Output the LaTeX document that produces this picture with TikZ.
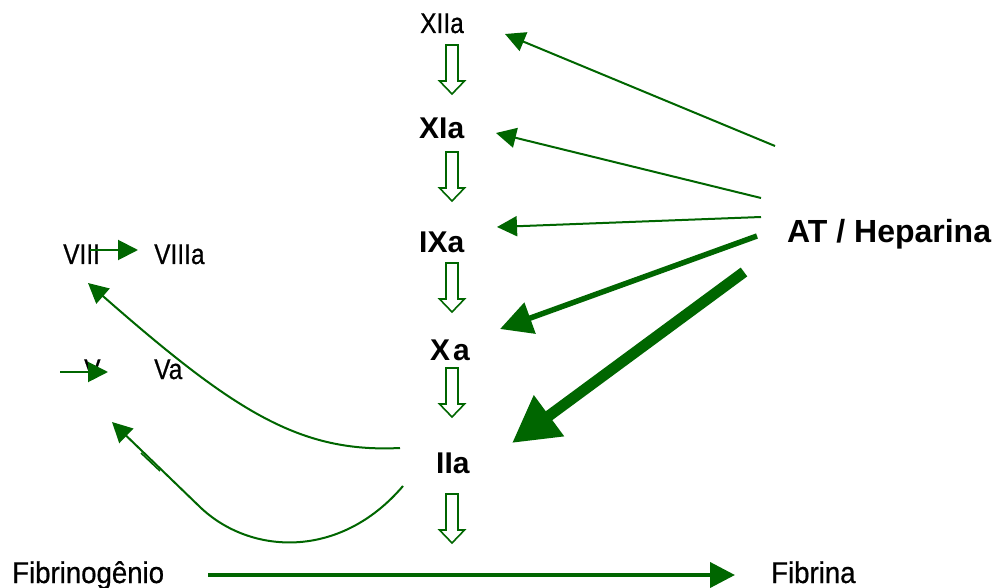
\documentclass[tikz,border=0pt]{standalone}
\usepackage{fontspec}
\setmainfont{Liberation Sans}
\newfontfamily\narrowf[FakeStretch=0.86,FakeBold=0.6]{Liberation Sans}
\newfontfamily\widef[FakeStretch=0.92,FakeBold=0.6]{Liberation Sans}
\usetikzlibrary{arrows.meta}
\definecolor{dgreen}{RGB}{0,102,0}
\begin{document}
\begin{tikzpicture}[x=1pt,y=-1pt,
  lbl/.style={inner sep=0pt,anchor=base west},
  nlab/.style={lbl,font=\narrowf\fontsize{28.5}{30}\selectfont},
  flab/.style={lbl,font=\widef\fontsize{30}{32}\selectfont},
  blab/.style={lbl,font=\bfseries\fontsize{30}{32}\selectfont},
  thinarr/.style={draw=dgreen,line width=2pt,-{Triangle[length=20pt,width=20pt]},fill=dgreen},
  medarr/.style={draw=dgreen,line width=5.5pt,-{Triangle[length=32pt,width=32pt]}},
  thickarr/.style={draw=dgreen,line width=11pt,-{Triangle[length=46pt,width=48pt]}},
  fibarr/.style={draw=dgreen,line width=4pt,-{Triangle[length=25pt,width=25pt]}},
  hollow/.pic={\draw[dgreen,line width=1.6pt,fill=white,line join=miter]
     (-6,0) -- (-6,36) -- (-12.5,36) -- (0,49) -- (12.5,36) -- (6,36) -- (6,0) -- cycle;}
]
\useasboundingbox[fill=white] (0,0) rectangle (999,588);

% labels
\node[nlab] (xiia) at (420,33) {XIIa};
\node[blab] (xia) at (419,139) {XIa};
\node[blab] (ixa) at (419,253) {IXa};
\node[blab] (xa) at (430,360) {X\kern3pt a};
\node[blab] (iia) at (436,473) {IIa};
\node[lbl,font=\bfseries\fontsize{32}{34}\selectfont] (at) at (787,243) {AT / Heparina};
\node[nlab] (viii) at (63,264) {VIII};
\node[nlab] (viiia) at (154,264) {VIIIa};
\node[nlab] (v) at (84,379) {V};
\node[nlab] (va) at (154,379) {Va};
\node[flab] (fgen) at (12,583) {Fibrinogênio};
\node[flab] (fib) at (771,583) {Fibrina};

% hollow cascade arrows
\pic (h1) at (452,45) {hollow};
\pic (h2) at (452,152) {hollow};
\pic (h3) at (452,263) {hollow};
\pic (h4) at (452,368) {hollow};
\pic (h5) at (452,494) {hollow};

% AT / Heparina inhibition arrows
\coordinate (s1) at (775,146);  \coordinate (t1) at (505,34);
\coordinate (s2) at (761,198);  \coordinate (t2) at (496,133);
\coordinate (s3) at (761,217);  \coordinate (t3) at (497,227);
\coordinate (s4) at (757,236);  \coordinate (t4) at (500,329);
\coordinate (s5) at (744,272);  \coordinate (t5) at (512,443);
\draw[thinarr] (s1) -- (t1);
\draw[thinarr] (s2) -- (t2);
\draw[thinarr] (s3) -- (t3);
\draw[medarr,fill=dgreen] (s4) -- (t4);
\draw[thickarr,fill=dgreen] (s5) -- (t5);

% VIII -> VIIIa, V -> Va
\coordinate (a8s) at (90,250); \coordinate (a8t) at (138,250);
\draw[thinarr] (a8s) -- (a8t);
\coordinate (a5s) at (60,372); \coordinate (a5t) at (108,372);
\draw[thinarr] (a5s) -- (a5t);

% feedback curves from IIa
\coordinate (c1s) at (400,448); \coordinate (c1t) at (88,283);
\draw[thinarr,fill=none] (c1s) .. controls (300,453) and (235,412) .. (c1t);
\coordinate (c2s) at (403,486); \coordinate (c2m) at (200,507); \coordinate (c2t) at (112,422);
\draw[thinarr,fill=none] (c2s) .. controls (340,560) and (250,555) .. (c2m) -- (c2t);
\draw[dgreen,line width=1.6pt] (141,453) -- (160,471);

% Fibrinogenio -> Fibrina
\coordinate (fs) at (208,575); \coordinate (ft) at (735,575);
\draw[fibarr,fill=dgreen] (fs) -- (ft);
\end{tikzpicture}
\end{document}
